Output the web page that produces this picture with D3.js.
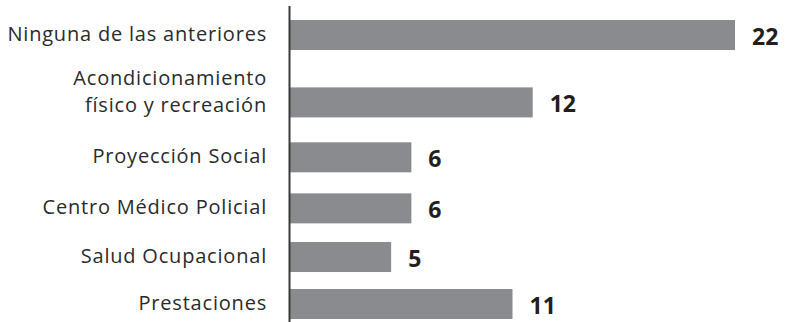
<!DOCTYPE html>
<html>
<head>
<meta charset="utf-8">
<script src="https://cdn.jsdelivr.net/npm/d3@7"></script>
<style>
  html, body { margin: 0; padding: 0; background: #ffffff; }
  svg { display: block; }
</style>
</head>
<body>
<svg id="chart" width="785" height="322"></svg>
<script>
// Categories, top to bottom ("\n" breaks a label onto two lines)
const categories = [
  "Ninguna de las anteriores",
  "Acondicionamiento\nfísico y recreación",
  "Proyección Social",
  "Centro Médico Policial",
  "Salud Ocupacional",
  "Prestaciones"
];
const values = [22, 12, 6, 6, 5, 11];

const width = 785, height = 322;
const axisX = 290;
const barH = 30;

const svg = d3.select("#chart");

const x = d3.scaleLinear()
  .domain([0, d3.max(values)])
  .range([axisX, 735]);

// Row centres: rows sit a little closer together toward the bottom
const rowIndex = d3.scalePow()
  .exponent(0.86)
  .domain([0, categories.length - 1])
  .range([35, 304]);
const y = name => rowIndex(categories.indexOf(name));

const rows = categories.map((c, i) => ({ name: c, value: values[i] }));

// Bars
svg.append("g")
  .selectAll("rect")
  .data(rows)
  .join("rect")
  .attr("x", x(0))
  .attr("y", d => y(d.name) - barH / 2)
  .attr("width", d => x(d.value) - x(0))
  .attr("height", barH)
  .attr("fill", "#8a8b8e");

// Vertical axis line
svg.append("line")
  .attr("x1", axisX - 0.5).attr("x2", axisX - 0.5)
  .attr("y1", 6).attr("y2", height)
  .attr("stroke", "#3a3a3a")
  .attr("stroke-width", 2);

// Category labels, right-aligned to the left of the axis
const labels = svg.append("g")
  .attr("font-family", "'Open Sans', sans-serif")
  .attr("font-size", 20)
  .attr("letter-spacing", 0.8)
  .attr("fill", "#2b2b2b")
  .attr("text-anchor", "end");

rows.forEach(d => {
  const lines = d.name.split("\n");
  const t = labels.append("text").attr("x", 267);
  lines.forEach((ln, i) => {
    t.append("tspan")
      .attr("x", 267)
      .attr("y", y(d.name) + 6 - (lines.length - 1) * 23 + i * 27)
      .text(ln);
  });
});

// Value labels at the end of each bar
svg.append("g")
  .selectAll("text")
  .data(rows)
  .join("text")
  .attr("x", d => x(d.value) + 17)
  .attr("y", d => y(d.name) + 10)
  .attr("font-family", "'Open Sans', sans-serif")
  .attr("font-weight", 700)
  .attr("font-size", 23)
  .attr("fill", "#231f20")
  .text(d => d.value);
</script>
</body>
</html>
